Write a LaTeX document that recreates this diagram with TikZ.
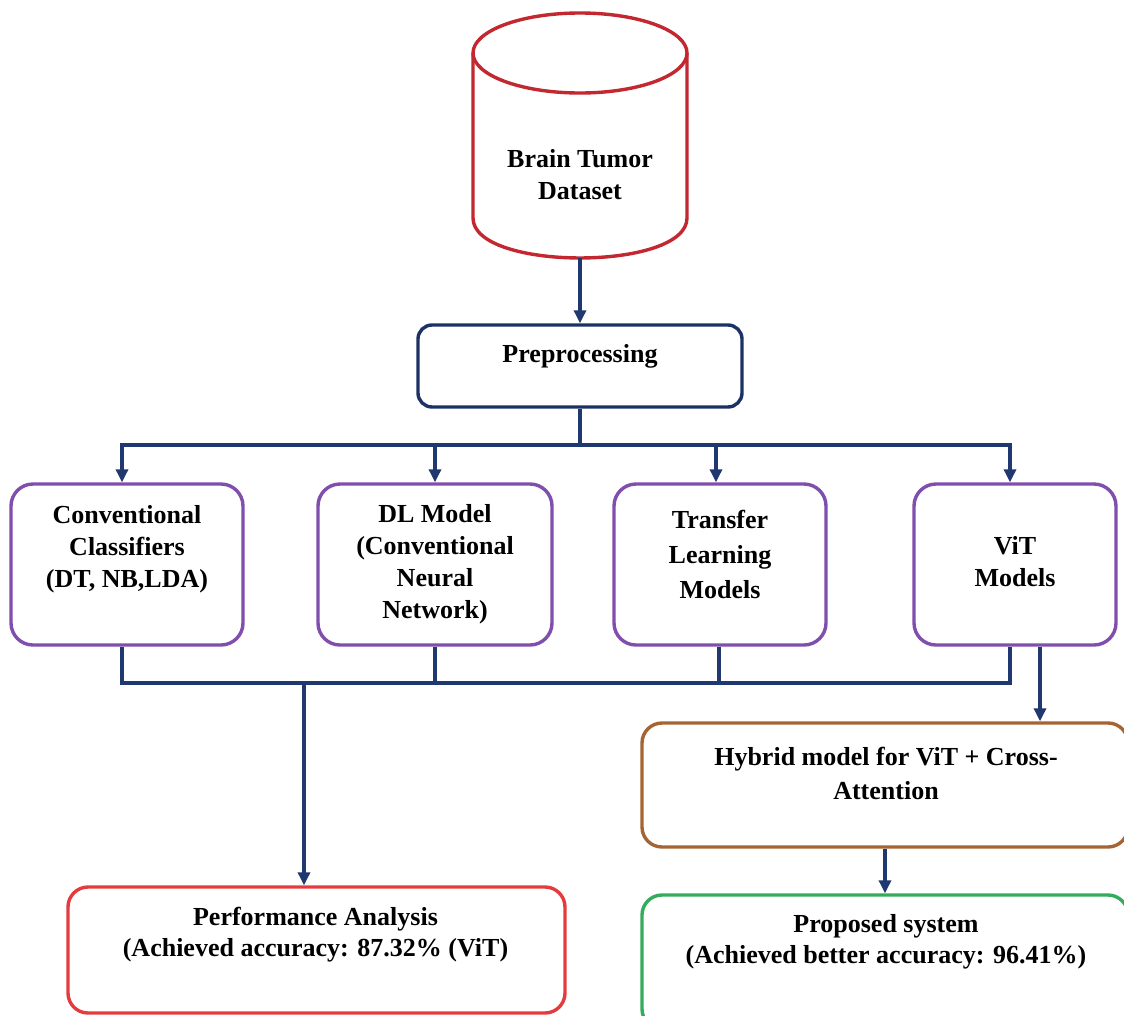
\documentclass[tikz,border=0pt]{standalone}
\usepackage{fontspec}
\setmainfont{Liberation Serif}
\usetikzlibrary{arrows.meta}
\definecolor{navy}{RGB}{31,56,112}
\definecolor{prenavy}{RGB}{28,50,100}
\definecolor{cylred}{RGB}{195,40,48}
\definecolor{boxpurple}{RGB}{128,78,172}
\definecolor{hybrown}{RGB}{165,100,50}
\definecolor{pared}{RGB}{228,60,62}
\definecolor{prgreen}{RGB}{52,172,92}
\begin{document}
\begin{tikzpicture}[x=1pt,y=-1pt,
  lbl/.style={font=\bfseries\fontsize{26}{32}\selectfont, align=center, inner sep=0pt, text=black},
  lblb/.style={font=\bfseries\fontsize{26}{31}\selectfont, align=center, inner sep=0pt, text=black},
  box/.style={draw, line width=3.4pt, rounded corners=22pt, inner sep=0pt},
  conn/.style={draw=navy, line width=3.2pt},
  arr/.style={conn, -{Triangle[length=13pt,width=12pt]}},
]
\useasboundingbox (0,0) rectangle (1124,1015);
\clip (0,0) rectangle (1124,1015);
\fill[white] (0,0) rectangle (1124,1015);

% cylinder
\draw[cylred, line width=3.4pt] (580,53) ellipse[x radius=107, y radius=40];
\draw[cylred, line width=3.4pt] (473,53) -- (473,218) .. controls (473,271.3) and (687,271.3) .. (687,218) -- (687,53);
\node[lbl] (cyl) at (580,175) {Brain Tumor\\Dataset};
\coordinate (cylb) at (580,258);

% preprocessing
\node[box, draw=prenavy, rounded corners=14pt, minimum width=324pt, minimum height=82pt] (pre) at (580,366) {};
\node[lbl] (pretxt) at (580,356) {Preprocessing};

% second row boxes
\node[box, draw=boxpurple, minimum width=232pt, minimum height=161pt] (cc) at (127,564.5) {};
\node[box, draw=boxpurple, minimum width=234pt, minimum height=161pt] (dl) at (435,564.5) {};
\node[box, draw=boxpurple, minimum width=212pt, minimum height=161pt] (tl) at (720,564.5) {};
\node[box, draw=boxpurple, minimum width=202pt, minimum height=161pt] (vit) at (1015,564.5) {};
\node[lbl] (cctxt) at (127,549) {Conventional\\Classifiers\\(DT, NB,LDA)};
\node[lbl] (dltxt) at (435,564) {DL Model\\(Conventional\\Neural\\Network)};
\node[lblb, font=\bfseries\fontsize{26}{35}\selectfont] (tltxt) at (720,554) {Transfer\\Learning\\Models};
\node[lbl] (vittxt) at (1015,562) {ViT\\Models};

% lower boxes
\node[box, draw=hybrown, rounded corners=20pt, minimum width=486pt, minimum height=124pt] (hy) at (885,785) {};
\node[lbl, font=\bfseries\fontsize{26}{34}\selectfont] (hytxt) at (886,773) {Hybrid model for ViT + Cross-\\Attention};
\node[box, draw=pared, rounded corners=20pt, minimum width=497pt, minimum height=126pt] (pa) at (316.5,950) {};
\node[lblb] (patxt) at (315.5,935) {Performance Analysis\\(Achieved accuracy: 87.32\% (ViT)};
\node[box, draw=prgreen, rounded corners=20pt, minimum width=486pt, minimum height=134pt] (pr) at (885,962) {};
\node[lblb] (prtxt) at (886,942) {Proposed system\\(Achieved better accuracy: 96.41\%)};

% connector coordinates
\coordinate (t1) at (122,445);
\coordinate (t2) at (435,445);
\coordinate (t3) at (716,445);
\coordinate (t4) at (1010,445);
\coordinate (b1) at (122,683);
\coordinate (b2) at (435,683);
\coordinate (b3) at (719,683);
\coordinate (b4) at (1010,683);
\coordinate (pd) at (304,683);
\coordinate (v2) at (1040,660);

% connectors
\draw[arr] (cylb) -- (pre.north);
\draw[arr] (pre.south) |- (t1) -- (t1 |- cc.north);
\draw[arr] (pre.south) |- (t2) -- (t2 |- dl.north);
\draw[arr] (pre.south) |- (t3) -- (t3 |- tl.north);
\draw[arr] (pre.south) |- (t4) -- (t4 |- vit.north);
\draw[conn, line join=miter] (b1 |- cc.south) -- (b1) -- (b4) -- (b4 |- vit.south);
\draw[conn] (b2 |- dl.south) -- (b2);
\draw[conn] (b3 |- tl.south) -- (b3);
\draw[arr] (pd) -- (pd |- pa.north);
\draw[arr] (v2 |- vit.south) -- (v2 |- hy.north);
\draw[arr] (hy.south) -- (pr.north);
\end{tikzpicture}
\end{document}
